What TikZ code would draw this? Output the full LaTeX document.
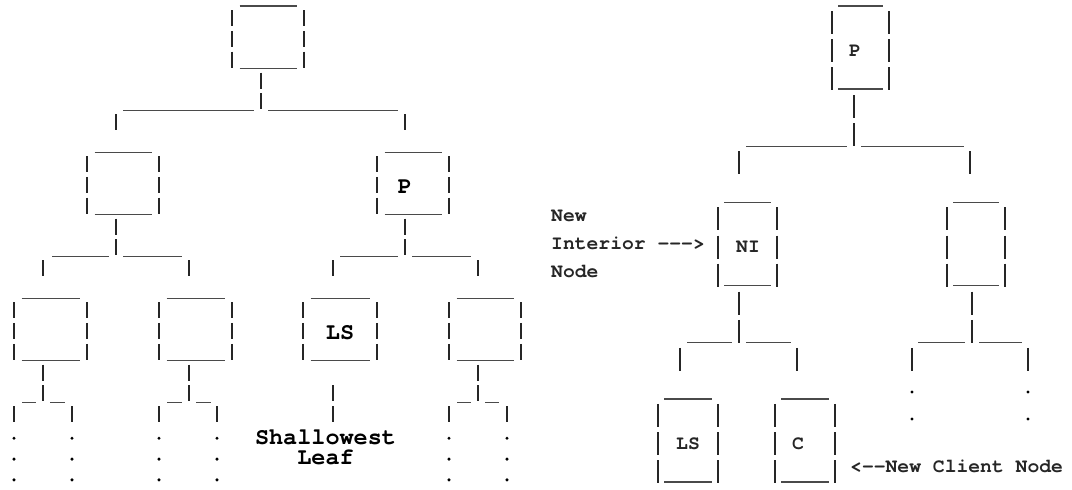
\documentclass[tikz,border=0pt]{standalone}
\usepackage{fontspec}
\usetikzlibrary{calc}
\newfontfamily\lfont{texgyrecursor}[Extension=.otf, UprightFont=*-bold]
\newfontfamily\rfont{texgyrecursor}[Extension=.otf, UprightFont=*-bold]
\definecolor{barc}{HTML}{262626}
\definecolor{undc}{HTML}{4A4A4A}
\tikzset{
  lside/.style={draw=barc, line width=1.9pt, dash pattern=on 16pt off 4.86pt},
  rside/.style={draw=barc, line width=1.7pt, dash pattern=on 23pt off 5.07pt},
  und/.style={draw=undc, line width=1.3pt},
  boxshape/.style={draw=none, inner sep=0pt, outer sep=0pt, rectangle},
  ltext/.style={font=\lfont\fontsize{23.5}{20.86}\selectfont, inner sep=0pt, text=black},
  rtext/.style={font=\rfont\fontsize{19.7}{28.07}\selectfont, inner sep=0pt, text=black!85},
  dotmark/.style={circle, fill=black, inner sep=0pt, minimum size=3.4pt},
}
\def\pitchL{20.86}\def\offL{-10.86}
\def\pitchR{28.07}\def\offR{-18.07}
% left-tree box: name, L, R, top row, text x, text
\newcommand\LBox[6]{%
  \pgfmathsetmacro\bxx{(#2+#3)/2}%
  \pgfmathsetmacro\bww{#3-#2}%
  \pgfmathsetmacro\bhh{2*\pitchL+16}%
  \pgfmathsetmacro\byy{\pitchL*(#4+1)+\offL+\bhh/2}%
  \node[boxshape,minimum width=\bww pt,minimum height=\bhh pt] (#1) at (\bxx,\byy) {};
  \draw[lside] (#1.north west) -- (#1.south west);
  \draw[lside] (#1.north east) -- (#1.south east);
  \draw[und] ([xshift=7.5pt,yshift=3.86pt]#1.north west) -- ([xshift=-7.5pt,yshift=3.86pt]#1.north east);
  \draw[und] ([xshift=7.5pt,yshift=-1pt]#1.south west) -- ([xshift=-7.5pt,yshift=-1pt]#1.south east);
  \if\relax\detokenize{#6}\relax\else
    \pgfmathsetmacro\tyy{\pitchL*(#4+2)+\offL+9.5}%
    \node[ltext] (#1-t) at (#5,\tyy) {#6};
  \fi
}
% left-tree fork: parent, stem x, stem row, drop a x, drop b x, line left, line right, name
\newcommand\LFork[8]{%
  \pgfmathsetmacro\fh{\pitchL*(#3+1)+\offL+17}%
  \pgfmathsetmacro\fc{\pitchL*(#3+2)+\offL}%
  \pgfmathsetmacro\fd{\fc+16}%
  \pgfmathsetmacro\fb{\fc-4.86}%
  \coordinate (#8) at (#2,\fh);
  \coordinate (#8-l) at (#4,\fd);
  \coordinate (#8-r) at (#5,\fd);
  \draw[lside] ($(#1.south -| #8)+(0,4.86)$) -- (#2,\fb);
  \draw[und] (#6,\fh) -- ($(#8)+(-7,0)$);
  \draw[und] ($(#8)+(7,0)$) -- (#7,\fh);
  \draw[lside] (#4,\fc) -- (#8-l);
  \draw[lside] (#5,\fc) -- (#8-r);
}
% right-tree box
\newcommand\RBox[6]{%
  \pgfmathsetmacro\bxx{(#2+#3)/2}%
  \pgfmathsetmacro\bww{#3-#2}%
  \pgfmathsetmacro\bhh{2*\pitchR+23}%
  \pgfmathsetmacro\byy{\pitchR*(#4+1)+\offR+1+\bhh/2}%
  \node[boxshape,minimum width=\bww pt,minimum height=\bhh pt] (#1) at (\bxx,\byy) {};
  \draw[rside] (#1.north west) -- (#1.south west);
  \draw[rside] (#1.north east) -- (#1.south east);
  \draw[und] ([xshift=6pt,yshift=5.07pt]#1.north west) -- ([xshift=-6pt,yshift=5.07pt]#1.north east);
  \draw[und] ([xshift=6pt,yshift=1pt]#1.south west) -- ([xshift=-6pt,yshift=1pt]#1.south east);
  \if\relax\detokenize{#6}\relax\else
    \pgfmathsetmacro\tyy{\pitchR*(#4+2)+\offR+12.5}%
    \node[rtext] (#1-t) at (#5,\tyy) {#6};
  \fi
}
\newcommand\RFork[8]{%
  \pgfmathsetmacro\fh{\pitchR*(#3+1)+\offR+24}%
  \pgfmathsetmacro\fc{\pitchR*(#3+2)+\offR+1}%
  \pgfmathsetmacro\fd{\fc+23}%
  \coordinate (#8) at (#2,\fh);
  \coordinate (#8-l) at (#4,\fd);
  \coordinate (#8-r) at (#5,\fd);
  \draw[rside] ($(#1.south -| #8)+(0,5.07)$) -- (#8);
  \draw[und] (#6,\fh) -- ($(#8)+(-7,0)$);
  \draw[und] ($(#8)+(7,0)$) -- (#7,\fh);
  \draw[rside] (#4,\fc) -- (#8-l);
  \draw[rside] (#5,\fc) -- (#8-r);
}
\begin{document}
\begin{tikzpicture}[x=1pt,y=-1pt]
\useasboundingbox (0,0) rectangle (1072,490);
% ---------------- left tree ----------------
\LBox{root}{232}{304}{0}{0}{}
\LFork{root}{261}{4}{116}{405}{123}{398}{f0}
\LBox{a}{87}{159}{7}{0}{}
\LBox{p}{377}{449}{7}{405}{P}
\LFork{a}{116}{11}{43}{189}{52}{182}{fa}
\LFork{p}{405}{11}{333}{478}{340}{471}{fp}
\LBox{b1}{14}{87}{14}{0}{}
\LBox{b2}{159}{232}{14}{0}{}
\LBox{ls}{303}{377}{14}{340}{LS}
\LBox{b4}{449}{521}{14}{0}{}
\LFork{b1}{43}{18}{14}{72}{22}{65}{g1}
\LFork{b2}{189}{18}{159}{217}{167}{211}{g2}
\LFork{b4}{478}{18}{449}{507}{457}{499}{g4}
\pgfmathsetmacro\lsa{\pitchL*19+\offL}
\pgfmathsetmacro\lsb{\pitchL*21+\offL-4.86}
\coordinate (lstop) at (333,\lsa);
\coordinate (lsbot) at (333,\lsb);
\draw[lside] (lstop) -- (lsbot);
\node[ltext, align=center] (shal) at (325.5,447.3) {Shallowest\\Leaf};
\foreach \dx/\nm in {14/a,72/b,159/c,217/d,449/e,507/f}{
  \foreach \dr in {21,22,23}{
    \pgfmathsetmacro\dy{\pitchL*\dr+\offL+11}
    \node[dotmark] (dot-\nm-\dr) at (\dx,\dy) {};
  }
}
% ---------------- right tree ----------------
\RBox{rp}{832}{889}{0}{855}{P}
\RFork{rp}{854}{4}{739}{970}{746}{964}{h0}
\RBox{ni}{718}{777}{7}{748}{NI}
\RBox{rb}{947}{1005}{7}{0}{}
\RFork{ni}{739}{11}{680}{797}{687}{791}{h1}
\RFork{rb}{972}{11}{912}{1028}{918}{1022}{h2}
\RBox{rls}{658}{718}{14}{688}{LS}
\RBox{rc}{775}{835}{14}{798}{C}
\foreach \dx/\nm in {912/a,1028/b}{
  \node[dotmark] (rdot-\nm-1) at (\dx,392) {};
  \node[dotmark] (rdot-\nm-2) at (\dx,419) {};
}
\pgfmathsetmacro\ra{\pitchR*8+\offR+12.5}
\pgfmathsetmacro\rb{\pitchR*9+\offR+12.5}
\pgfmathsetmacro\rc{\pitchR*10+\offR+12.5}
\pgfmathsetmacro\rd{\pitchR*17+\offR+11}
\node[rtext, anchor=mid west] (lnew) at (551,\ra) {New};
\node[rtext, anchor=mid west] (lint) at (551,\rb) {Interior --->};
\node[rtext, anchor=mid west] (lnode) at (551,\rc) {Node};
\node[rtext, anchor=mid west] (lclient) at (850,\rd) {<--New Client Node};
\end{tikzpicture}
\end{document}
